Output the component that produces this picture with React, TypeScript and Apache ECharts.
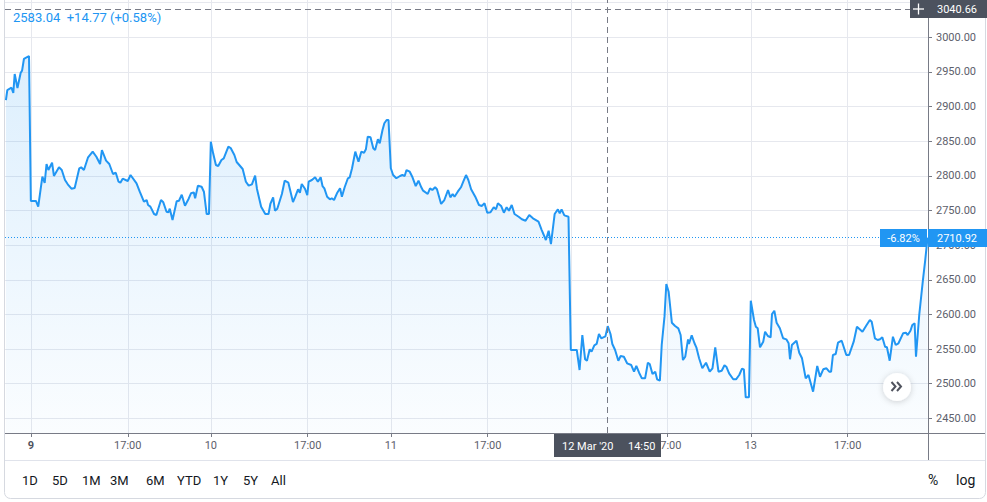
import React, { useEffect, useRef } from 'react';
import * as echarts from 'echarts';

// x = trading minutes since the 9 Mar open (each session 13:30–20:00 UTC = 390 min)
const minutes: number[] = [
  -54, -51, -42, -38, -35, -29, -22, -19, -15, -4,
  0, 11, 16, 21, 25, 30, 34, 38, 46, 50, 61, 67, 74, 80, 88, 95, 105, 109, 115, 124,
  134, 142, 150, 154, 163, 170, 178, 184, 190, 194, 199, 210, 216, 229, 236, 245, 251, 254, 259, 267,
  272, 282, 287, 294, 298, 301, 307, 316, 321, 327, 334, 342, 347, 353, 356, 362, 370, 375, 381, 386,
  390, 395, 401, 406, 413, 418, 428, 433, 441, 446, 459, 466, 472, 479, 486, 490, 499, 508, 515, 519,
  525, 529, 534, 544, 550, 558, 568, 573, 579, 583, 587, 594, 599, 602, 609, 616, 622, 628, 632, 636,
  642, 648, 652, 657, 664, 670, 674, 680, 687, 691, 696, 703, 710, 716, 722, 726, 730, 736, 742, 746,
  752, 756, 762, 766, 771, 775,
  780, 785, 792, 800, 805, 810, 814, 821, 827, 834, 840, 846, 850, 860, 865, 870, 876, 880, 889, 896,
  904, 909, 914, 918, 925, 932, 937, 943, 948, 954, 963, 971, 977, 983, 989, 996, 1003, 1008, 1012, 1019,
  1025, 1031, 1036, 1042, 1048, 1057, 1064, 1072, 1080, 1088, 1100, 1107, 1116, 1122, 1127, 1135, 1142, 1146, 1150, 1156,
  1165,
  1170, 1183, 1189, 1195, 1201, 1205, 1211, 1215, 1221, 1226, 1231, 1236, 1245, 1250, 1256, 1260, 1266, 1273, 1278, 1285,
  1292, 1301, 1307, 1312, 1318, 1324, 1331, 1337, 1341, 1347, 1353, 1357, 1363, 1367, 1373, 1377, 1382, 1389, 1396, 1403,
  1408, 1413, 1418, 1424, 1426, 1432, 1438, 1442, 1448, 1455, 1463, 1471, 1477, 1483, 1490, 1497, 1503, 1507, 1513, 1522,
  1528, 1535, 1541, 1545, 1549, 1556,
  1560, 1567, 1571, 1575, 1580, 1587, 1591, 1597, 1603, 1606, 1611, 1616, 1623, 1630, 1637, 1642, 1645, 1649, 1659, 1665,
  1671, 1679, 1685, 1695, 1704, 1710, 1717, 1724, 1730, 1734, 1738, 1744, 1749, 1757, 1767, 1773, 1783, 1790, 1802, 1811,
  1818, 1822, 1829, 1835, 1840, 1845, 1851, 1855, 1861, 1868, 1874, 1880, 1890, 1896, 1900, 1906, 1910, 1915, 1918, 1925,
  1933, 1938, 1943,
];

const prices: number[] = [
  2909.3, 2923.9, 2927.2, 2919.6, 2947.0, 2926.8, 2948.9, 2951.8, 2968.7, 2973.0,
  2763.7, 2763.7, 2755.5, 2779.6, 2798.8, 2789.7, 2817.1, 2808.4, 2819.0, 2799.8,
  2812.3, 2808.4, 2794.0, 2787.8, 2781.4, 2782.4, 2810.9, 2812.3, 2808.4, 2826.8,
  2834.9, 2827.6, 2817.1, 2837.3, 2821.9, 2817.1, 2802.7, 2804.5, 2791.5, 2790.1,
  2795.9, 2792.6, 2801.2, 2789.2, 2777.1, 2762.7, 2765.1, 2757.9, 2755.5, 2744.9,
  2743.5, 2765.1, 2761.8, 2748.2, 2747.4, 2752.6, 2736.3, 2763.2, 2764.1, 2772.8,
  2756.9, 2767.0, 2774.8, 2776.2, 2767.6, 2785.8, 2784.3, 2777.1, 2744.9, 2744.9,
  2849.3, 2832.5, 2815.6, 2814.2, 2822.9, 2825.3, 2842.1, 2840.2, 2830.1, 2820.0,
  2809.9, 2791.5, 2785.8, 2787.8, 2800.2, 2781.0, 2755.5, 2744.9, 2744.9, 2759.4,
  2769.0, 2749.7, 2752.6, 2773.8, 2793.0, 2790.1, 2762.2, 2769.9, 2780.6, 2775.7,
  2788.2, 2781.4, 2772.3, 2791.5, 2794.0, 2797.9, 2791.5, 2797.9, 2785.3, 2782.0,
  2769.9, 2766.1, 2767.6, 2765.1, 2775.7, 2782.0, 2769.9, 2783.5, 2796.5, 2797.9,
  2810.9, 2834.9, 2820.4, 2834.9, 2833.4, 2838.3, 2856.5, 2855.6, 2839.8, 2837.3,
  2852.8, 2847.0, 2866.2, 2875.9, 2880.6, 2880.6,
  2810.9, 2801.2, 2796.5, 2799.8, 2801.2, 2799.8, 2808.4, 2806.0, 2797.9, 2785.3,
  2793.0, 2783.5, 2778.6, 2773.8, 2782.0, 2779.6, 2783.5, 2780.6, 2759.4, 2765.1,
  2779.6, 2769.0, 2773.8, 2769.9, 2777.1, 2783.5, 2791.5, 2801.2, 2794.0, 2780.6,
  2769.9, 2757.9, 2756.5, 2760.4, 2746.8, 2747.4, 2754.6, 2751.7, 2760.4, 2756.5,
  2746.8, 2754.6, 2749.7, 2757.9, 2744.9, 2741.0, 2737.3, 2735.2, 2743.5, 2738.7,
  2733.8, 2721.8, 2707.4, 2720.8, 2701.6, 2744.9, 2751.7, 2745.9, 2751.7, 2743.0,
  2741.0,
  2548.6, 2548.6, 2519.7, 2570.2, 2535.2, 2533.1, 2549.6, 2546.1, 2555.4, 2557.3,
  2571.7, 2565.5, 2568.27, 2583.04, 2571.7, 2557.3, 2548.6, 2533.1, 2539.9, 2538.9,
  2529.4, 2526.9, 2517.3, 2525.5, 2515.8, 2507.7, 2507.7, 2530.2, 2528.4, 2513.9,
  2517.3, 2506.3, 2504.3, 2555.8, 2596.7, 2643.9, 2632.7, 2588.0, 2583.2, 2579.9,
  2570.2, 2534.1, 2538.9, 2564.0, 2557.3, 2569.8, 2558.3, 2552.5, 2536.6, 2522.2,
  2530.2, 2517.3, 2522.2, 2552.5, 2517.3, 2518.7, 2526.5, 2524.5, 2514.9, 2506.3,
  2506.3, 2512.5, 2521.6, 2520.7, 2480.3, 2480.3,
  2619.8, 2591.9, 2582.2, 2579.9, 2552.5, 2560.6, 2575.0, 2568.8, 2566.9, 2600.6,
  2605.3, 2588.0, 2579.9, 2565.5, 2564.0, 2558.3, 2535.2, 2555.8, 2562.0, 2544.7,
  2536.6, 2507.7, 2512.5, 2488.4, 2525.5, 2510.0, 2520.7, 2522.2, 2517.3, 2517.3,
  2541.4, 2542.8, 2559.1, 2562.0, 2541.4, 2541.4, 2560.6, 2582.2, 2575.0, 2584.7,
  2591.9, 2589.4, 2565.5, 2563.0, 2564.0, 2566.9, 2553.3, 2552.5, 2533.1, 2567.8,
  2555.8, 2558.3, 2572.7, 2573.6, 2570.2, 2576.4, 2584.7, 2587.1, 2538.9, 2599.1,
  2649.6, 2678.5, 2710.92,
];

const tickMinutes: number[] = [0, 210, 390, 600, 780, 990, 1170, 1380, 1560, 1770];
const tickLabels: string[] = ['9', '17:00', '10', '17:00', '11', '17:00', '12', '17:00', '13', '17:00'];
// the '12' label sits under the crosshair time label in the reference
const hiddenTimeLabels: number[] = [1170];
const priceGridLines: number[] = [2450, 2500, 2550, 2600, 2650, 2700, 2750, 2800, 2850, 2900, 2950, 3000, 3050];
const priceLabels: number[] = [2450, 2500, 2550, 2600, 2650, 2700, 2750, 2800, 2850, 2900, 2950, 3000];
const rangeButtons: string[] = ['1D', '5D', '1M', '3M', '6M', 'YTD', '1Y', '5Y', 'All'];
const lastPrice = 2710.92;
const lastChangeLabel = '-6.82%';
const crossPrice = 3040.66;
const crossMinute = 1250;
const crossDate = "12 Mar '20";
const crossTime = '14:50';
const legendText = '2583.04  +14.77 (+0.58%)';

const FONT = 'Roboto, "Liberation Sans", Arial, sans-serif';
const BLUE = '#2196f3';
const DARK = '#4c525e';

export default function App() {
  const ref = useRef<HTMLDivElement>(null);

  useEffect(() => {
    if (!ref.current) return;
    const chart = echarts.init(ref.current, null, { renderer: 'svg' });
    const data = minutes.map((m, i) => [m, prices[i]]);
    const buttonX = [22, 52, 82, 110, 146, 177, 213, 243, 271];
    const shownTimeTicks = tickMinutes.filter((m) => hiddenTimeLabels.indexOf(m) < 0);

    const txt = (x: number, y: number, text: string, fill: string, size: number, extra: any = {}) => ({
      type: 'text',
      x,
      y,
      z: 100,
      silent: true,
      style: { text, fill, fontSize: size, fontFamily: FONT, verticalAlign: 'middle', align: 'left', ...extra },
    });

    chart.setOption({
      animation: false,
      backgroundColor: '#ffffff',
      grid: { left: 5, right: 59, top: 0, bottom: 69, containLabel: false },
      xAxis: {
        type: 'value',
        min: -56,
        max: 1944,
        axisLine: { show: true, onZero: false, lineStyle: { color: '#787b86', width: 1 } },
        axisTick: { show: true, length: 4, customValues: tickMinutes, lineStyle: { color: '#787b86' } },
        axisLabel: {
          customValues: shownTimeTicks,
          margin: 7,
          color: '#5d606b',
          fontSize: 11,
          fontFamily: FONT,
          formatter: (v: number) => {
            const i = tickMinutes.indexOf(v);
            if (i < 0) return '';
            return i === 0 ? '{b|' + tickLabels[i] + '}' : tickLabels[i];
          },
          rich: { b: { fontWeight: 'bold', color: '#50535e', fontSize: 11, fontFamily: FONT } },
        },
        splitLine: { show: true, lineStyle: { color: '#e6e8ee', width: 1 } },
      },
      yAxis: {
        type: 'value',
        position: 'right',
        min: 2428.78,
        max: 3053.85,
        axisLine: { show: true, onZero: false, lineStyle: { color: '#787b86', width: 1 } },
        axisTick: { show: true, length: 4, customValues: priceGridLines, lineStyle: { color: '#787b86' } },
        axisLabel: {
          customValues: priceLabels,
          margin: 8,
          color: '#5d606b',
          fontSize: 11,
          fontFamily: FONT,
          formatter: (v: number) => v.toFixed(2),
        },
        splitLine: { show: true, lineStyle: { color: '#e6e8ee', width: 1 } },
      },
      series: [
        {
          type: 'line',
          data,
          showSymbol: false,
          symbol: 'none',
          lineStyle: { color: BLUE, width: 2 },
          areaStyle: {
            color: new echarts.graphic.LinearGradient(0, 0, 0, 1, [
              { offset: 0, color: 'rgba(33,150,243,0.22)' },
              { offset: 1, color: 'rgba(33,150,243,0.03)' },
            ]),
          },
          markLine: {
            silent: true,
            symbol: 'none',
            label: { show: false },
            data: [
              { yAxis: lastPrice, lineStyle: { color: BLUE, type: [1, 2], width: 1 } },
              { yAxis: crossPrice, lineStyle: { color: '#787b86', type: [6, 4], width: 1 } },
              { xAxis: crossMinute, lineStyle: { color: '#787b86', type: [6, 4], width: 1 } },
            ],
          },
        },
      ],
      graphic: [
        // widget frame
        { type: 'rect', z: 90, silent: true, shape: { x: 4.5, y: -20, width: 981, height: 518.5, r: 6 }, style: { fill: 'none', stroke: '#d6d9e0', lineWidth: 1 } },
        // axis extensions and toolbar separator
        { type: 'line', z: 90, silent: true, shape: { x1: 928, y1: 433.5, x2: 985, y2: 433.5 }, style: { stroke: '#787b86', lineWidth: 1 } },
        { type: 'line', z: 90, silent: true, shape: { x1: 928.5, y1: 433, x2: 928.5, y2: 460 }, style: { stroke: '#787b86', lineWidth: 1 } },
        { type: 'line', z: 90, silent: true, shape: { x1: 5, y1: 460.5, x2: 985, y2: 460.5 }, style: { stroke: '#e0e3eb', lineWidth: 1 } },
        // legend
        txt(13, 17, legendText, BLUE, 13),
        // crosshair price label
        { type: 'rect', z: 95, silent: true, shape: { x: 910, y: 0, width: 18, height: 18 }, style: { fill: DARK } },
        { type: 'line', z: 96, silent: true, shape: { x1: 913, y1: 9, x2: 924, y2: 9 }, style: { stroke: '#ffffff', lineWidth: 1.3 } },
        { type: 'line', z: 96, silent: true, shape: { x1: 918.5, y1: 3.5, x2: 918.5, y2: 14.5 }, style: { stroke: '#ffffff', lineWidth: 1.3 } },
        { type: 'rect', z: 95, silent: true, shape: { x: 928, y: 0, width: 59, height: 18 }, style: { fill: DARK } },
        txt(937, 9, crossPrice.toFixed(2), '#ffffff', 11),
        // last price labels
        { type: 'rect', z: 95, silent: true, shape: { x: 880, y: 229, width: 47, height: 18 }, style: { fill: BLUE } },
        txt(903.5, 238, lastChangeLabel, '#ffffff', 11, { align: 'center' }),
        { type: 'rect', z: 95, silent: true, shape: { x: 928, y: 229, width: 59, height: 18 }, style: { fill: BLUE } },
        txt(937, 238, lastPrice.toFixed(2), '#ffffff', 11),
        // crosshair time label
        { type: 'rect', z: 95, silent: true, shape: { x: 554, y: 434, width: 107, height: 23 }, style: { fill: DARK } },
        txt(562, 446, crossDate, '#ffffff', 11),
        txt(628, 446, crossTime, '#ffffff', 11),
        // scroll button
        { type: 'circle', z: 95, silent: true, shape: { cx: 897, cy: 387, r: 14 }, style: { fill: '#ffffff', shadowBlur: 6, shadowColor: 'rgba(0,0,0,0.18)', shadowOffsetY: 1 } },
        { type: 'polyline', z: 96, silent: true, shape: { points: [[891.5, 382], [895.5, 386.5], [891.5, 391]] }, style: { stroke: '#50535e', lineWidth: 2, fill: 'none' } },
        { type: 'polyline', z: 96, silent: true, shape: { points: [[897, 382], [901, 386.5], [897, 391]] }, style: { stroke: '#50535e', lineWidth: 2, fill: 'none' } },
        // toolbar
        ...rangeButtons.map((b, i) => txt(buttonX[i], 480, b, '#131722', 13)),
        txt(928, 480, '%', '#131722', 14),
        txt(956, 480, 'log', '#131722', 14),
      ],
    });

    return () => chart.dispose();
  }, []);

  return (
    <div
      ref={ref}
      style={{ position: 'fixed', left: 0, top: 0, width: 987, height: 502, background: '#ffffff' }}
    />
  );
}
